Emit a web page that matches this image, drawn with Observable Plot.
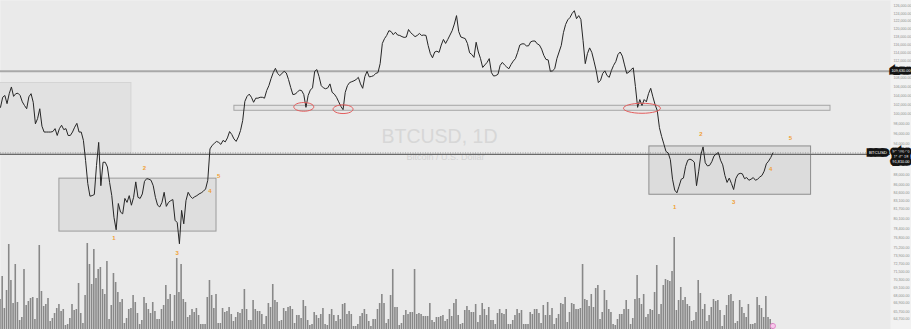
<!DOCTYPE html>
<html><head><meta charset="utf-8">
<script src="https://cdn.jsdelivr.net/npm/d3@7"></script>
<script src="https://cdn.jsdelivr.net/npm/@observablehq/plot@0.6"></script>
<style>
html,body{margin:0;padding:0;background:#f2f2f2;}
#chart{position:relative;width:911px;height:329px;overflow:hidden;font-family:"Liberation Sans",Arial,sans-serif;}
#chart svg{position:absolute;left:0;top:0;}
</style></head><body><div id="chart"></div>
<script>
// ---- data ----
const startDate = "2025-01-17";   // day 0 of the series
const closes = [
101500,103700,104100,102300,104500,106000,103900,104500,104600,104100,
102700,101900,101200,103800,104500,102600,98000,99100,101200,97500,
96300,96300,96300,96300,96400,97000,95600,97000,97700,96800,
97000,95600,95600,96300,97300,98100,96300,96300,94600,90600,
86300,84000,84100,84300,89700,94200,85900,90300,90300,89400,
86500,84100,80300,78200,82700,81200,80900,83600,82900,84100,
82400,83800,86600,83800,83600,84400,86700,87200,87100,86900,
85900,83800,82400,82100,82900,84700,82200,82900,83200,83400,
79800,79400,75900,81500,79200,83200,84700,84000,83600,83900,
84100,84400,84600,84900,85300,86900,92900,93600,94000,94400,
94200,93800,94600,94300,95100,96400,95800,94900,94400,95300,
96600,98700,102800,103900,104400,103700,102600,103500,103500,103700,
103700,103500,105200,106300,107900,109300,110300,109100,108600,109100,
109600,109200,107700,105900,104300,104400,104800,105300,105200,104300,
101500,104100,105300,105800,109600,110000,108400,106300,105800,105600,
105800,106700,104800,104400,103700,102700,101700,101000,104800,106300,
107000,107200,107400,107700,108200,106700,105700,108400,109600,108300,
108400,108600,109100,109300,111400,116300,117500,118300,119500,119300,
118500,119100,118400,118300,118000,117800,117900,119800,119000,118500,
118000,118300,118800,118300,118400,118300,115800,113800,112800,114200,
114400,114100,115900,117300,116300,117300,118400,119500,121200,123400,
119300,117900,117700,117500,116300,114000,113600,112900,116600,114200,
112600,110500,111100,111700,112600,109300,108500,108600,108900,111000,
111700,111100,110600,110200,111200,112000,112600,114100,115900,116200,
116200,115700,115700,116700,116900,116900,116200,115900,114900,113400,
112400,112300,109600,109700,110200,112600,114200,115800,119000,121100,
122300,122900,124000,124700,122600,123400,122400,117000,111400,113800,
115200,114100,112000,109800,107000,107500,109100,109700,108600,108200,
109800,111000,111900,113600,114200,113200,111100,109100,109400,110000,
110400,106100,101500,103200,101900,103200,102700,104500,105700,103800,
102100,100800,97200,95400,93900,92400,92100,90800,87100,85100,
84600,85800,87100,87300,89500,90700,90900,90700,90300,85900,
88600,91800,93300,90200,89600,89700,90400,91500,91900,92200,
90700,89800,87800,86500,87300,86300,85200,87200,88000,88200,
88100,87200,87400,86900,87100,87400,86900,87100,87500,87800,
88600,90000,90500,91200,92100
];
const volumes = [
33,56,24,42,88,52,29,68,30,12,15,63,27,31,34,35,13,34,87,41,
26,28,34,11,14,19,24,28,21,23,7,8,14,28,22,23,49,19,9,37,
89,68,48,83,54,63,65,43,38,71,13,27,59,50,40,30,33,9,14,23,
24,37,30,19,8,12,35,29,23,19,30,21,13,13,23,27,47,33,38,11,
37,74,40,68,33,30,15,17,23,20,24,17,8,8,8,35,52,37,24,38,
9,9,24,20,21,25,18,11,15,20,19,23,43,23,12,12,32,23,21,21,
18,8,16,29,25,48,32,30,11,12,24,21,25,26,23,9,17,
17,14,32,26,12,7,8,20,17,14,18,24,8,7,18,23,17,11,17,13,
28,29,18,21,18,6,6,8,16,19,23,18,11,6,13,13,23,29,38,29,
9,13,37,63,25,25,7,9,17,22,18,20,20,63,18,19,18,16,16,16,
29,12,10,15,15,16,17,11,13,23,16,29,33,17,8,9,22,26,22,20,
20,28,10,17,29,23,17,25,12,12,8,19,23,19,18,23,8,8,12,17,
23,19,22,8,8,8,20,18,23,23,19,9,27,17,30,17,
24,8,14,18,29,28,35,10,20,29,28,23,23,24,68,33,32,26,38,25,
44,47,13,20,42,32,23,20,8,7,13,18,18,23,32,23,8,14,33,57,
34,28,38,15,18,23,22,40,67,18,28,47,53,52,51,61,95,22,32,45,
32,35,28,26,11,12,20,52,39,23,28,11,17,25,33,31,32,22,6,17,
27,37,38,31,9,11,32,25,19,15,28,8,8,9,35,27,24,15,36,15,
13,9
];
// annotation zones (day offsets, price levels)
const zoneStartDay = [-6, 27, 107.2, 297.4];
const zoneEndDay   = [60, 99, 380.4, 371.5];
const zoneTop      = [106900, 87200, 101840, 93390];
const zoneBottom   = [91950, 77900, 100760, 84260];
const zoneFill     = ["#e1e1e1", "#dedede", "#e4e4e4", "#dcdcdc"];
const zoneStroke   = ["#d4d4d4", "#9c9c9c", "#a6a6a6", "#8e8e8e"];
const resistanceLevel = 109630;
const rayLevel = 91810;
// wave counts
const waveText  = ["1","2","3","4","5","1","2","3","4","5"];
const waveDay   = [52, 66, 81, 96, 100, 309, 321, 336, 353, 362];
const wavePrice = [76900, 89100, 74400, 84900, 87600, 82070, 95800, 83020, 88900, 95130];
// red circled touches of the support band
const smallCircleDay = [139, 157];
const smallCirclePrice = [101600, 101100];
const bigCircleDay = [294];
const bigCirclePrice = [101300];
// right price axis labels
const priceTicks = [126000,124000,122000,120000,118000,116000,114000,112000,108000,106000,104000,
  102000,100000,98000,96000,94000,90000,88000,86000,84600,83100,81700,80100,78400,76800,75200,
  73900,72700,71500,70300,69100,68000,66900,65700,64700];
const symbolName = "BTCUSD";
const titleText = "BTCUSD, 1D";
const subtitleText = "Bitcoin / U.S. Dollar";
const countdownText = "11:42:18";

// ---- build ----
const DAY = 864e5;
const start = new Date(startDate + "T00:00:00Z");
const dayToDate = d => new Date(+start + d * DAY);
const series = closes.map((c, i) => ({date: dayToDate(i), close: c, volume: volumes[i]}));
const lastClose = closes[closes.length - 1];
const zones = zoneStartDay.map((s, i) => ({x1: dayToDate(s), x2: dayToDate(zoneEndDay[i]), y1: zoneBottom[i], y2: zoneTop[i], fill: zoneFill[i], stroke: zoneStroke[i]}));
const waves = waveText.map((t, i) => ({t, date: dayToDate(waveDay[i]), price: wavePrice[i]}));
const fmt = d3.format(",.2f");

const W = 911, H = 329, MR = 21;
const xOpts = {type: "utc", domain: [dayToDate(0), dayToDate(407.9)], range: [0, W - MR], axis: null};

function ellipse(ratio) {
  return {draw(ctx, size) {
    const rx = Math.sqrt(size / Math.PI), ry = rx / ratio, k = 0.5523;
    ctx.moveTo(rx, 0);
    ctx.bezierCurveTo(rx, ry * k, rx * k, ry, 0, ry);
    ctx.bezierCurveTo(-rx * k, ry, -rx, ry * k, -rx, 0);
    ctx.bezierCurveTo(-rx, -ry * k, -rx * k, -ry, 0, -ry);
    ctx.bezierCurveTo(rx * k, -ry, rx, -ry * k, rx, 0);
    ctx.closePath();
  }};
}

const volPlot = Plot.plot({
  width: W, height: H, marginTop: 0, marginBottom: 0, marginLeft: 0, marginRight: MR,
  style: {background: "transparent", overflow: "visible", fontFamily: "Liberation Sans, Arial, sans-serif"},
  x: xOpts,
  y: {domain: [0, 100], range: [332, 232], axis: null},
  marks: [
    Plot.frame({fill: "#eaeaea", stroke: null}),
    Plot.text([titleText], {text: d => d, frameAnchor: "top-left", dx: 439, dy: 136, textAnchor: "middle", lineAnchor: "middle", fontSize: 19.5, fill: "#d7d7d7"}),
    Plot.text([subtitleText], {text: d => d, frameAnchor: "top-left", dx: 445, dy: 156.5, textAnchor: "middle", lineAnchor: "middle", fontSize: 9, fill: "#d3d3d3"}),
    Plot.rect(series, {x1: d => new Date(+d.date - DAY / 2), x2: d => new Date(+d.date + DAY / 2), y1: 0, y2: "volume", fill: "#888888", insetLeft: 0.3, insetRight: 0.3}),
    Plot.dot([series[series.length - 1]], {x: "date", frameAnchor: "bottom", dy: -3.5, r: 2.6, fill: "#f6c9ea", stroke: "#e07ac6", strokeWidth: 0.8})
  ]
});

const pricePlot = Plot.plot({
  width: W, height: H, marginTop: 0, marginBottom: 0, marginLeft: 0, marginRight: MR,
  style: {background: "transparent", overflow: "visible", fontFamily: "Liberation Sans, Arial, sans-serif"},
  x: xOpts,
  y: {type: "log", domain: [63236, 127440], range: [H, 0], axis: null},
  color: {type: "identity"},
  marks: [
    Plot.rect(zones, {x1: "x1", x2: "x2", y1: "y1", y2: "y2", fill: "fill", stroke: "stroke", strokeWidth: 1}),
    Plot.ruleY([resistanceLevel], {stroke: "#a8a8a8", strokeWidth: 2}),
    Plot.ruleY([rayLevel], {stroke: "#6a6a6a", strokeWidth: 1.2}),
    Plot.ruleY([lastClose], {stroke: "#9a9a9a", strokeWidth: 1, strokeDasharray: "1,1.5"}),
    Plot.line(series, {x: "date", y: "close", stroke: "#262626", strokeWidth: 1}),
    Plot.dot(smallCircleDay.map((d, i) => ({date: dayToDate(d), price: smallCirclePrice[i]})),
      {x: "date", y: "price", r: 10, symbol: ellipse(2.3), stroke: "#e35d5d", strokeWidth: 1, fill: "none"}),
    Plot.dot(bigCircleDay.map((d, i) => ({date: dayToDate(d), price: bigCirclePrice[i]})),
      {x: "date", y: "price", r: 18.5, symbol: ellipse(3.7), stroke: "#e35d5d", strokeWidth: 1, fill: "none"}),
    Plot.text(waves, {x: "date", y: "price", text: "t", fill: "#f0a035", fontSize: 6, fontWeight: "bold", textAnchor: "middle", lineAnchor: "middle"}),
    // right price scale labels
    Plot.text(priceTicks, {y: d => d, text: d => fmt(d), frameAnchor: "right", dx: 3, textAnchor: "start", lineAnchor: "middle", fontSize: 3.6, fill: "#8d8d8d"}),
    Plot.text([resistanceLevel], {y: d => d, text: d => fmt(d), frameAnchor: "right", dx: 10.5, textAnchor: "middle", lineAnchor: "middle",
      fill: "white", stroke: "#141414", strokeWidth: 5, strokeLinejoin: "miter", paintOrder: "stroke", fontSize: 3.8}),
    Plot.text([lastClose], {y: d => d, text: () => symbolName, frameAnchor: "right", dx: -3.5, textAnchor: "end", lineAnchor: "middle",
      fill: "white", stroke: "#141414", strokeWidth: 5.5, strokeLinejoin: "miter", paintOrder: "stroke", fontSize: 4.4}),
    Plot.text([lastClose], {y: d => d, text: d => fmt(d) + "\n" + countdownText + "\n" + fmt(rayLevel), frameAnchor: "right", dx: 10.5, dy: -3.3,
      textAnchor: "middle", lineAnchor: "top", lineHeight: 1.25, fill: "white", stroke: "#141414", strokeWidth: 5, strokeLinejoin: "miter", paintOrder: "stroke", fontSize: 3.8})
  ]
});

const root = document.getElementById("chart");
root.appendChild(volPlot);
root.appendChild(pricePlot);
</script>
</body></html>
